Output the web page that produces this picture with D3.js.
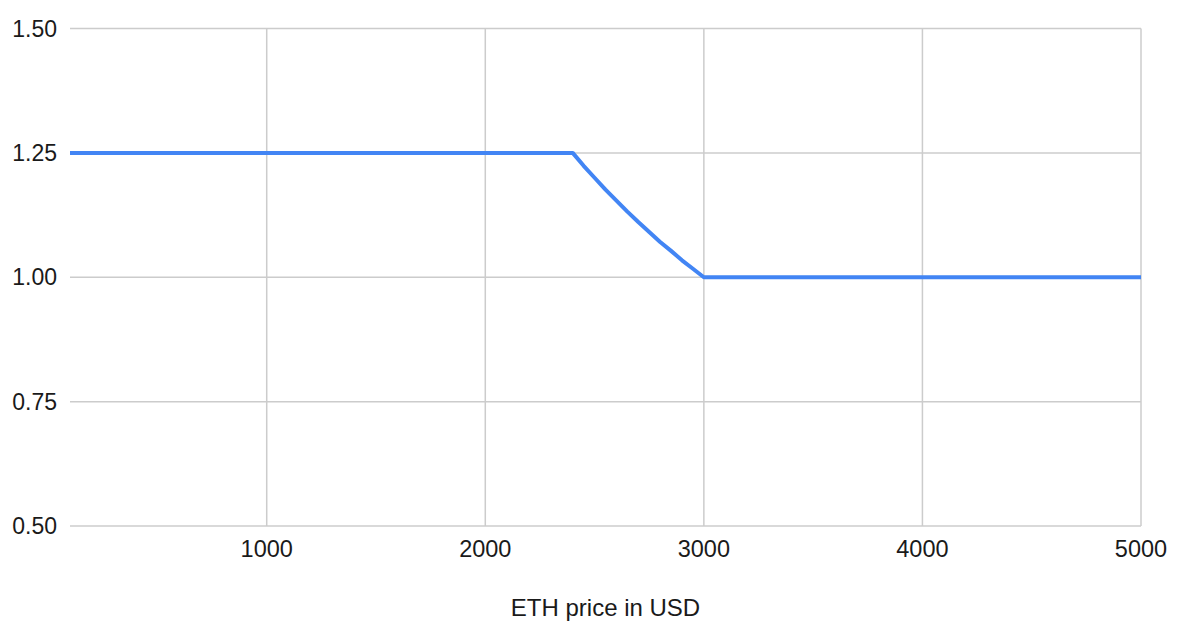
<!DOCTYPE html>
<html><head><meta charset="utf-8">
<script src="https://cdn.jsdelivr.net/npm/d3@7"></script>
<style>
html,body{margin:0;padding:0;background:#fff;}
svg{display:block;font-family:"Liberation Sans",Arial,sans-serif;}
</style></head>
<body>
<svg id="chart" width="1186" height="621"></svg>
<script>
const prices = [100, 1000, 2000, 2400, 2450, 2500, 2550, 2600, 2650, 2700, 2750, 2800, 2850, 2900, 2950, 3000, 4000, 5000];
const ratios = [1.25, 1.25, 1.25, 1.25, 1.224, 1.2, 1.176, 1.154, 1.132, 1.111, 1.091, 1.071, 1.053, 1.034, 1.017, 1.0, 1.0, 1.0];
const xTicks = [1000, 2000, 3000, 4000, 5000];
const yTicks = [0.5, 0.75, 1.0, 1.25, 1.5];
const xTitle = "ETH price in USD";

(function () {
const svg = d3.select("#chart");
const mLeft = 70, mRight = 1141, mTop = 28.5, mBottom = 526;
const x = d3.scaleLinear().domain([100, 5000]).range([mLeft, mRight]);
const y = d3.scaleLinear().domain([0.5, 1.5]).range([mBottom, mTop]);

const grid = svg.append("g").attr("stroke", "#cccccc").attr("stroke-width", 1.5);
grid.selectAll("line.h").data(yTicks).join("line")
  .attr("x1", mLeft).attr("x2", mRight)
  .attr("y1", d => y(d)).attr("y2", d => y(d));
grid.selectAll("line.v").data(xTicks).join("line")
  .attr("x1", d => x(d)).attr("x2", d => x(d))
  .attr("y1", mTop).attr("y2", mBottom);

svg.append("g").selectAll("text").data(yTicks).join("text")
  .attr("x", 57).attr("y", d => y(d)).attr("dy", "0.35em")
  .attr("text-anchor", "end").attr("font-size", 23).attr("fill", "#1a1a1a")
  .text(d => d3.format(".2f")(d));

svg.append("g").selectAll("text").data(xTicks).join("text")
  .attr("x", d => x(d)).attr("y", 557)
  .attr("text-anchor", "middle").attr("font-size", 23.5).attr("fill", "#1a1a1a")
  .text(d => d);

svg.append("text").attr("x", (mLeft + mRight) / 2).attr("y", 616)
  .attr("text-anchor", "middle").attr("font-size", 24).attr("fill", "#1a1a1a")
  .text(xTitle);

const data = prices.map((p, i) => ({p, r: ratios[i]}));
svg.append("path").datum(data)
  .attr("fill", "none").attr("stroke", "#4285F4").attr("stroke-width", 4)
  .attr("stroke-linejoin", "round")
  .attr("d", d3.line().x(d => x(d.p)).y(d => y(d.r)));
})();
</script>
</body></html>
